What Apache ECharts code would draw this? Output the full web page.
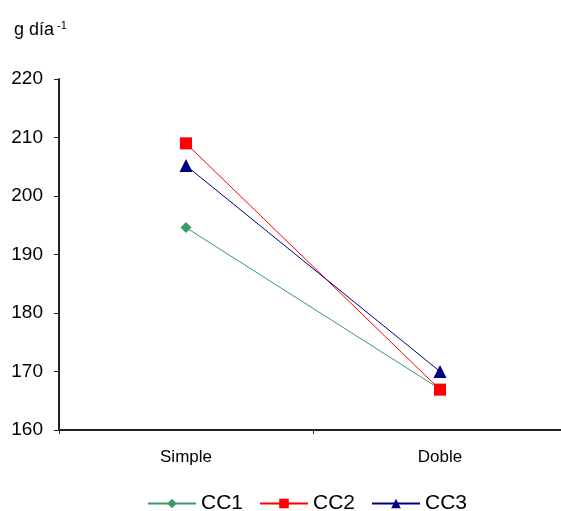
<!DOCTYPE html>
<html><head><meta charset="utf-8">
<script src="https://cdn.jsdelivr.net/npm/echarts@6/dist/echarts.min.js"></script>
<style>html,body{margin:0;padding:0;background:#fff;overflow:hidden}#c{width:567px;height:511px}</style>
</head><body><div id="c"></div>
<script>
const categories = ['Simple', 'Doble'];
const cc1 = [194.6, 167.0];
const cc2 = [209.0, 166.9];
const cc3 = [205.2, 170.0];
const yTicks = [160, 170, 180, 190, 200, 210, 220];

const chart = echarts.init(document.getElementById('c'));
const font = 'Liberation Sans, Arial, sans-serif';
chart.setOption({
  animation: false,
  backgroundColor: '#fff',
  title: {
    text: '{a|g día}{b|-1}',
    left: 9, top: 15,
    textStyle: {
      fontWeight: 'normal',
      rich: {
        a: {fontFamily: font, fontSize: 18, color: '#000', fontWeight: 'normal'},
        b: {fontFamily: font, fontSize: 11, color: '#000', fontWeight: 'normal', verticalAlign: 'top', padding: [0,0,10,3]}
      }
    }
  },
  grid: {left: 59, top: 79, right: 0, height: 351},
  xAxis: {
    type: 'category', data: categories, boundaryGap: true,
    axisLine: {lineStyle: {color: '#222', width: 2}},
    axisTick: {show: true, length: 4, lineStyle: {color: '#222'}},
    axisLabel: {color: '#000', fontFamily: font, fontSize: 17, margin: 19}
  },
  yAxis: {
    type: 'value', min: yTicks[0], max: yTicks[yTicks.length-1], interval: 10,
    splitLine: {show: false},
    axisLine: {show: true, lineStyle: {color: '#222', width: 2}},
    axisTick: {show: true, length: 5, lineStyle: {color: '#222'}},
    axisLabel: {color: '#000', fontFamily: font, fontSize: 19, margin: 16}
  },
  legend: {
    top: 488, left: 142, itemWidth: 48, itemHeight: 12, itemGap: 16,
    textStyle: {color: '#000', fontFamily: font, fontSize: 21},
    data: ['CC1', 'CC2', 'CC3']
  },
  series: [
    {name: 'CC1', type: 'line', data: cc1, symbol: 'diamond', symbolSize: 11,
     color: '#3a9a6a', lineStyle: {width: 1, color: '#3a9a6a'}},
    {name: 'CC2', type: 'line', data: cc2, symbol: 'rect', symbolSize: 12,
     color: '#ff0000', lineStyle: {width: 1, color: '#ff0000'}},
    {name: 'CC3', type: 'line', data: cc3, symbol: 'triangle', symbolSize: 13,
     color: '#000080', lineStyle: {width: 1, color: '#000080'}}
  ]
});
</script></body></html>
